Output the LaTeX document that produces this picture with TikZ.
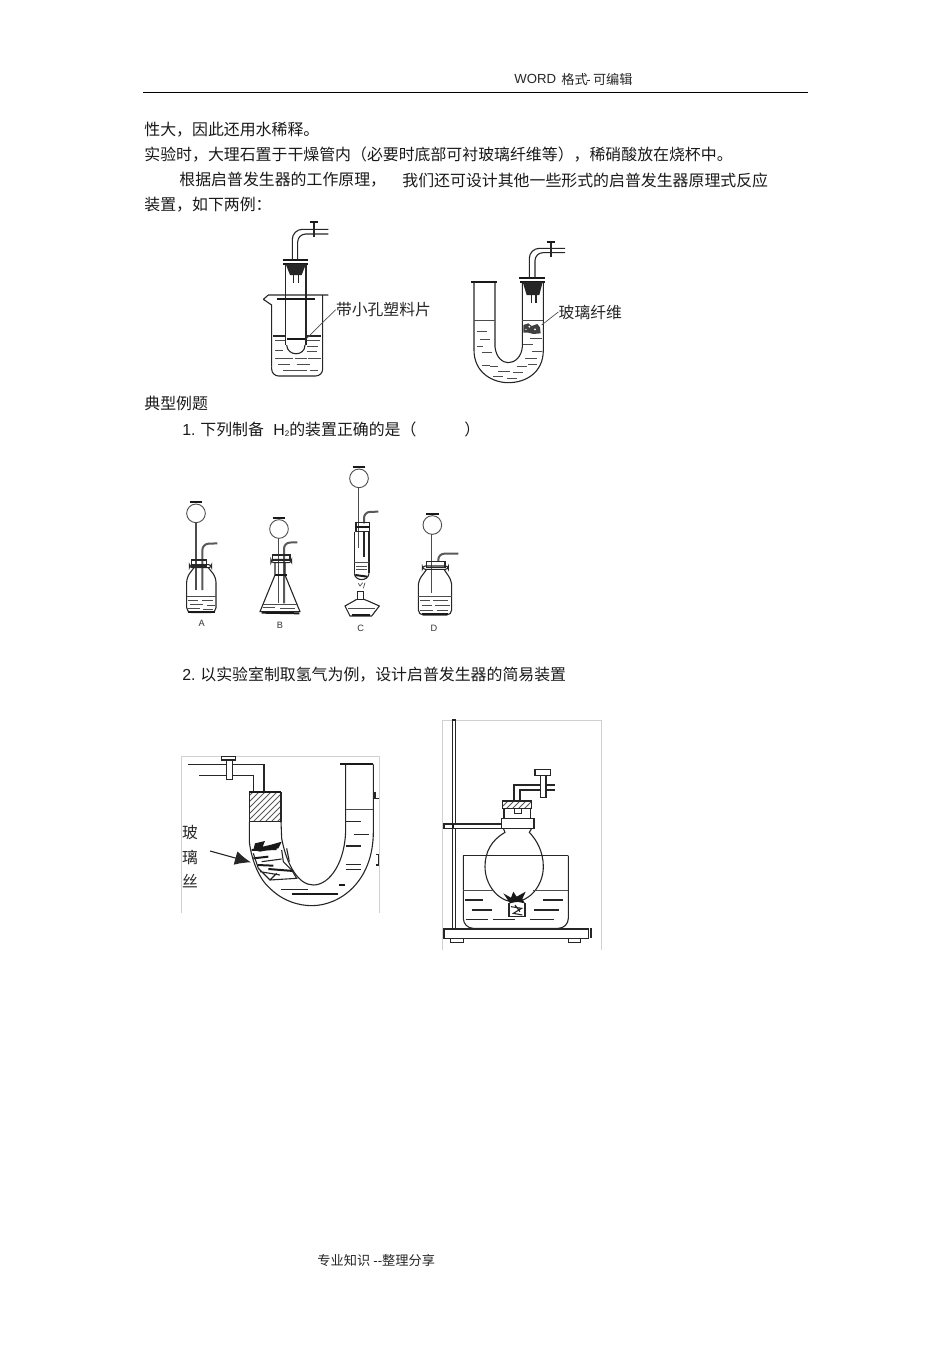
\documentclass[tikz,border=0pt]{standalone}
\usepackage{fontspec}
\setmainfont{Noto Sans CJK SC}
\newfontfamily\lat{Liberation Sans}
\usetikzlibrary{patterns,arrows.meta}

\tikzset{
  body/.style={anchor=west,inner sep=0pt,yshift=-0.5pt,font=\fontsize{7.95}{9}\selectfont,text=black!90},
  small/.style={anchor=west,inner sep=0pt,yshift=-0.5pt,font=\fontsize{6.6}{8}\selectfont,text=black!85},
  tag/.style={inner sep=0pt,font=\fontsize{7.9}{9}\selectfont,text=black!85},
  letter/.style={inner sep=0pt,font=\lat\fontsize{4.6}{5}\selectfont,text=black!80},
  glass/.style={line width=0.55pt,black!85},
  fine/.style={line width=0.35pt,black!70},
  heavy/.style={line width=1pt,black!90},
  frame/.style={line width=0.4pt,black!18}
}

\begin{document}
\begin{tikzpicture}[x=0.5pt,y=-0.5pt]
\useasboundingbox (0,0) rectangle (950,1345);

% page text
\node [small] (head1) at (514,78) {\lat WORD};
\node [small] (head2) at (561,78) {格式};
\node [small] (head3) at (586,78) {{\lat -\,}可编辑};
\draw [line width=0.5pt] (143,92) -- (808,92);
\node [body] (line1) at (144,129) {性大，因此还用水稀释。};
\node [body] (line2) at (144,154) {实验时，大理石置于干燥管内（必要时底部可衬玻璃纤维等），稀硝酸放在烧杯中。};
\node [body] (line3a) at (179,179) {根据启普发生器的工作原理，};
\node [body] (line3b) at (402,179) {我们还可设计其他一些形式的启普发生器原理式反应};
\node [body] (line4) at (144,204) {装置，如下两例：};
\node [body] (line5) at (144,402) {典型例题};
\node [body] (q1a) at (182,428) {{\lat 1.} 下列制备};
\node [body] (q1b) at (273,428) {{\lat H}\raisebox{-0.5pt}{\lat\fontsize{4}{4}\selectfont 2}的装置正确的是（};
\node [body] (q1c) at (464,428) {）};
\node [body] (q2) at (182,674) {{\lat 2.} 以实验室制取氢气为例，设计启普发生器的简易装置};
\node [small] (foot1) at (317,1259) {专业知识};
\node [small] (foot2) at (373,1259) {{\lat --}整理分享};

% beaker and U tube of the first row
\begin{scope}[shift={(250,210)},scale=1/3]
\draw [glass] (40,268) -- (55,255) -- (235,255) (40,268) -- (65,285) -- (65,470);
\draw [glass,rounded corners=3.5pt] (65,470) -- (65,498) -- (218,498) -- (218,255);
\draw [glass] (107,165) -- (107,405) (168,165) -- (168,405);
\draw [glass] (110,405) .. controls (112,440) and (165,440) .. (165,405);
\draw [heavy] (80,268) -- (195,268);
\draw [heavy] (112,388) -- (165,388);
\draw [glass] (70,378) -- (105,378) (170,378) -- (212,378);
\foreach \xa/\xb/\yy in {75/105/392,172/210/392,172/205/408,75/100/420,170/200/425,75/130/445,135/170/445,175/212/445,
  85/120/462,140/180/462,100/170/480,180/205/480}
  \draw [fine] (\xa,\yy) -- (\xb,\yy);
\draw [heavy] (100,150) -- (175,150) (100,162) -- (175,162);
\fill [black!85] (107,162) -- (168,162) -- (155,195) -- (120,195) -- cycle;
\draw [glass] (130,195) -- (130,218) (145,195) -- (145,218);
\draw [glass,rounded corners=5pt] (127,150) -- (127,58) -- (235,58);
\draw [glass,rounded corners=4pt] (143,150) -- (143,72) -- (235,72);
\draw [glass] (192,35) -- (192,82);
\draw [heavy] (180,35) -- (205,35);
\coordinate (platept) at (170,385);
\node [tag,anchor=west] (lblplate) at (257,299) {带小孔塑料片};
\draw [fine] (platept) -- (lblplate.west);

\draw [glass] (672,215) -- (672,420) .. controls (672,490) and (730,518) .. (775,518) .. controls (825,518) and (880,490) .. (880,420) -- (880,215);
\draw [glass] (735,215) -- (735,410) .. controls (738,445) and (760,458) .. (775,458) .. controls (795,458) and (815,440) .. (817,410) -- (817,215);
\draw [heavy] (662,215) -- (742,215);
\draw [fine] (672,330) -- (735,330) (817,330) -- (880,330);
\foreach \xa/\xb/\yy in {680/710/365,690/720/388,680/700/408,695/725/428,840/875/385,820/850/402,845/875/425,825/860/445,
  695/720/465,720/745/470,800/830/470,835/860/462,745/780/485,790/820/488,730/760/500,770/800/505}
  \draw [fine] (\xa,\yy) -- (\xb,\yy);
\fill [black!75] (820,345) -- (835,340) -- (845,348) -- (862,342) -- (870,352) -- (872,370) -- (850,372) -- (835,368) -- (820,368) -- cycle;
\fill [white] (838,350) circle [radius=3] (855,358) circle [radius=3] (828,358) circle [radius=2];
\draw [heavy] (808,205) -- (885,205) (810,216) -- (885,216);
\fill [black!85] (818,216) -- (878,216) -- (868,255) -- (830,255) -- cycle;
\draw [glass] (845,255) -- (845,278) (858,255) -- (858,278);
\draw [glass,rounded corners=5pt] (838,205) -- (838,115) -- (945,115);
\draw [glass,rounded corners=4pt] (855,205) -- (855,128) -- (945,128);
\draw [glass] (903,95) -- (903,142);
\draw [heavy] (892,95) -- (915,95);
\coordinate (fibrept) at (875,345);
\node [tag,anchor=west] (lblfibre) at (925,306) {玻璃纤维};
\draw [fine] (fibrept) -- (lblfibre.west);
\end{scope}

% the four flasks A B C D
\begin{scope}[shift={(170,460)},scale=1/3]
\foreach \cx/\cy/\sx in {78/160/78,327/207/325,567/55/565,787/195/785}{
  \draw [fine,line width=0.45pt] (\cx,\cy) circle [radius=28];
  \draw [heavy] (\cx-19,\cy-34) -- (\cx+19,\cy-34);
}
\draw [line width=0.8pt,black!70] (78,187) -- (78,390);
\draw [line width=0.8pt,black!70] (325,235) -- (325,430);
\draw [line width=0.8pt,black!70] (565,83) -- (565,265);
\draw [line width=0.8pt,black!70] (785,223) -- (785,400);
\draw [line width=1pt,black!65,rounded corners=3pt] (97,390) -- (97,252) -- (142,250);
\draw [line width=1pt,black!65,rounded corners=3pt] (342,430) -- (342,248) -- (382,247);
\draw [line width=1pt,black!65,rounded corners=3pt] (582,190) -- (582,156) -- (625,155);
\draw [line width=1pt,black!65,rounded corners=3pt] (805,305) -- (805,281) -- (865,281);

% A
\draw [glass] (65,300) rectangle (110,318);
\draw [glass,rounded corners=1.5pt] (58,314) rectangle (125,323);
\draw [glass,rounded corners=2.5pt] (72,323) -- (50,352) -- (50,458) -- (138,458) -- (138,352) -- (115,323);
\draw [fine] (50,410) -- (138,410);
\foreach \xa/\xb/\yy in {55/85/420,95/130/420,60/100/432,110/135/435,55/90/445,100/130/447}
  \draw [fine] (\xa,\yy) -- (\xb,\yy);
\draw [heavy] (55,455) -- (135,455);
\node [letter] (labela) at (95,490) {A};

% B
\draw [glass] (308,285) rectangle (360,300);
\draw [glass,rounded corners=1.5pt] (303,298) rectangle (365,308);
\draw [glass] (315,308) -- (315,345) -- (270,455) -- (390,455) -- (345,345) -- (345,308);
\draw [heavy] (315,346) -- (350,346);
\draw [fine] (280,432) -- (380,432);
\foreach \xa/\xb/\yy in {280/315/443,330/375/445}
  \draw [fine] (\xa,\yy) -- (\xb,\yy);
\draw [heavy] (275,458) -- (388,460);
\node [letter] (labelb) at (330,495) {B};

% C
\draw [glass] (558,188) rectangle (598,215);
\draw [heavy] (555,200) -- (600,200);
\draw [glass] (553,215) -- (553,340) (597,215) -- (597,340);
\draw [glass] (553,340) .. controls (555,365) and (595,365) .. (597,340);
\draw [fine] (553,308) -- (597,308);
\draw [heavy] (556,345) -- (592,350);
\draw [glass] (582,215) -- (582,290);
\foreach \yy in {318,328}
  \draw [fine] (558,\yy) -- (592,\yy);
\draw [fine] (565,370) -- (570,378) -- (578,368) (585,368) -- (580,385);
\draw [glass] (562,395) rectangle (580,418);
\draw [glass] (560,418) .. controls (540,430) and (535,432) .. (525,438) -- (540,468) -- (605,468) -- (628,438) .. controls (610,430) and (600,425) .. (582,418);
\draw [fine] (535,445) -- (615,445);
\draw [heavy] (545,465) -- (600,465);
\node [letter] (labelc) at (572,505) {C};

% D
\draw [glass] (770,305) rectangle (825,322);
\draw [glass,rounded corners=1.5pt] (757,318) rectangle (835,328);
\draw [glass,rounded corners=2.5pt] (770,328) -- (745,362) -- (745,465) -- (845,465) -- (845,362) -- (822,328);
\draw [fine] (745,410) -- (845,410);
\foreach \xa/\xb/\yy in {750/780/422,790/835/422,755/785/435,795/840/437,750/790/450,800/835/450}
  \draw [fine] (\xa,\yy) -- (\xb,\yy);
\draw [heavy] (755,462) -- (835,462);
\node [letter] (labeld) at (792,505) {D};
\end{scope}

% U tube with glass wool
\begin{scope}[shift={(170,715)},scale=1/3]
\draw [frame] (35,595) -- (35,125) -- (628,125) -- (628,595);
\draw [glass] (55,148) -- (282,148) -- (282,232);
\draw [glass] (88,182) -- (250,182) -- (250,232);
\draw [glass,fill=white] (170,135) rectangle (187,193);
\draw [glass,fill=white] (155,125) rectangle (197,135);
\draw [glass,pattern=north east lines,pattern color=black!65] (238,232) rectangle (333,320);
\draw [heavy] (238,232) -- (333,232);
\draw [glass] (238,320) -- (238,380) .. controls (245,440) and (270,495) .. (300,520) .. controls (340,560) and (390,572) .. (425,572) .. controls (510,572) and (610,500) .. (610,350) -- (610,148);
\draw [glass] (333,320) -- (335,370) .. controls (350,450) and (385,510) .. (430,510) .. controls (480,510) and (527,440) .. (527,340) -- (527,148);
\draw [heavy] (510,148) -- (610,148);
\draw [fine,line width=0.5pt] (527,282) -- (610,282);
\foreach \xa/\xb/\yy in {527/573/320,553/597/358,527/573/393,527/573/448,527/573/463,333/413/523}
  \draw [glass] (\xa,\yy) -- (\xb,\yy);
\draw [heavy] (365,538) -- (505,538) (507,510) -- (525,510);
\draw [glass] (615,230) -- (615,250) -- (628,250) (618,418) -- (625,418) -- (625,450) -- (618,450);
% wool
\fill [black!90] (255,385) -- (285,378) -- (278,395) -- (300,390) -- (335,380) -- (325,400) -- (295,405) -- (270,410) -- (250,405) -- cycle;
\draw [heavy] (245,405) -- (320,402) (250,430) -- (295,425) (262,450) -- (310,452) (295,462) -- (370,468);
\draw [glass] (250,415) -- (265,460) -- (300,495) -- (380,490) -- (365,465) -- (340,440) -- (335,405) (275,440) -- (335,432) (270,470) -- (330,480) (300,495) -- (320,475) (350,400) -- (358,440);
\coordinate (wooltail) at (120,408);
\coordinate (woolhead) at (243,442);
\draw [glass,-{Latex[length=8pt,width=7pt]}] (wooltail) -- (woolhead);
\node [tag] (glassa) at (60,352) {玻};
\node [tag] (glassb) at (60,427) {璃};
\node [tag] (glassc) at (60,498) {丝};
\end{scope}

% round flask in the water bath
\begin{scope}[shift={(435,715)},scale=1/3]
\draw [frame] (22,705) -- (22,15) -- (500,15) -- (500,705);
\draw [glass] (52,15) rectangle (62,640);
\draw [glass] (27,642) rectangle (460,670);
\draw [glass] (468,640) -- (468,670);
\draw [glass] (47,670) rectangle (85,682) (400,670) rectangle (437,682);
\draw [glass,fill=white] (27,327) rectangle (200,340);
\draw [heavy] (55,327) -- (55,340);
\draw [glass] (200,310) rectangle (297,340);
\draw [glass] (207,280) -- (207,310) (287,280) -- (287,310);
\draw [glass,pattern=north east lines,pattern color=black!65] (203,258) rectangle (290,280);
\draw [glass] (238,280) rectangle (260,295);
\draw [glass] (237,258) -- (237,210) -- (360,210);
\draw [glass] (255,258) -- (255,225) -- (360,225);
\draw [glass,fill=white] (317,182) rectangle (333,247);
\draw [glass,fill=white] (300,163) rectangle (347,182);
\draw [glass] (205,340) -- (210,352) .. controls (170,375) and (150,410) .. (150,455) .. controls (150,510) and (190,560) .. (237,560)
  .. controls (285,560) and (325,510) .. (325,455) .. controls (325,410) and (305,375) .. (283,352) -- (290,340);
\draw [glass,line width=0.8pt] (85,422) -- (400,422);
\draw [glass,rounded corners=5pt] (85,422) -- (85,640) -- (400,640) -- (400,422);
\draw [fine,line width=0.45pt] (85,525) -- (175,525) (295,525) -- (400,525);
\foreach \xa/\xb/\yy in {90/145/555,325/385/555,110/172/585,298/372/585,92/158/613,175/240/613,285/358/613}
  \draw [glass] (\xa,\yy) -- (\xb,\yy);
% flame and wire gauze
\fill [black!90] (205,535) -- (228,548) -- (235,530) -- (245,545) -- (272,530) -- (262,552) -- (270,565) -- (245,560) -- (225,565) -- cycle;
\draw [glass] (222,565) -- (222,605) -- (270,605) -- (270,565);
\draw [glass] (228,575) -- (260,580) -- (235,595) -- (262,600) (240,570) -- (255,590);
\end{scope}

\end{tikzpicture}
\end{document}
